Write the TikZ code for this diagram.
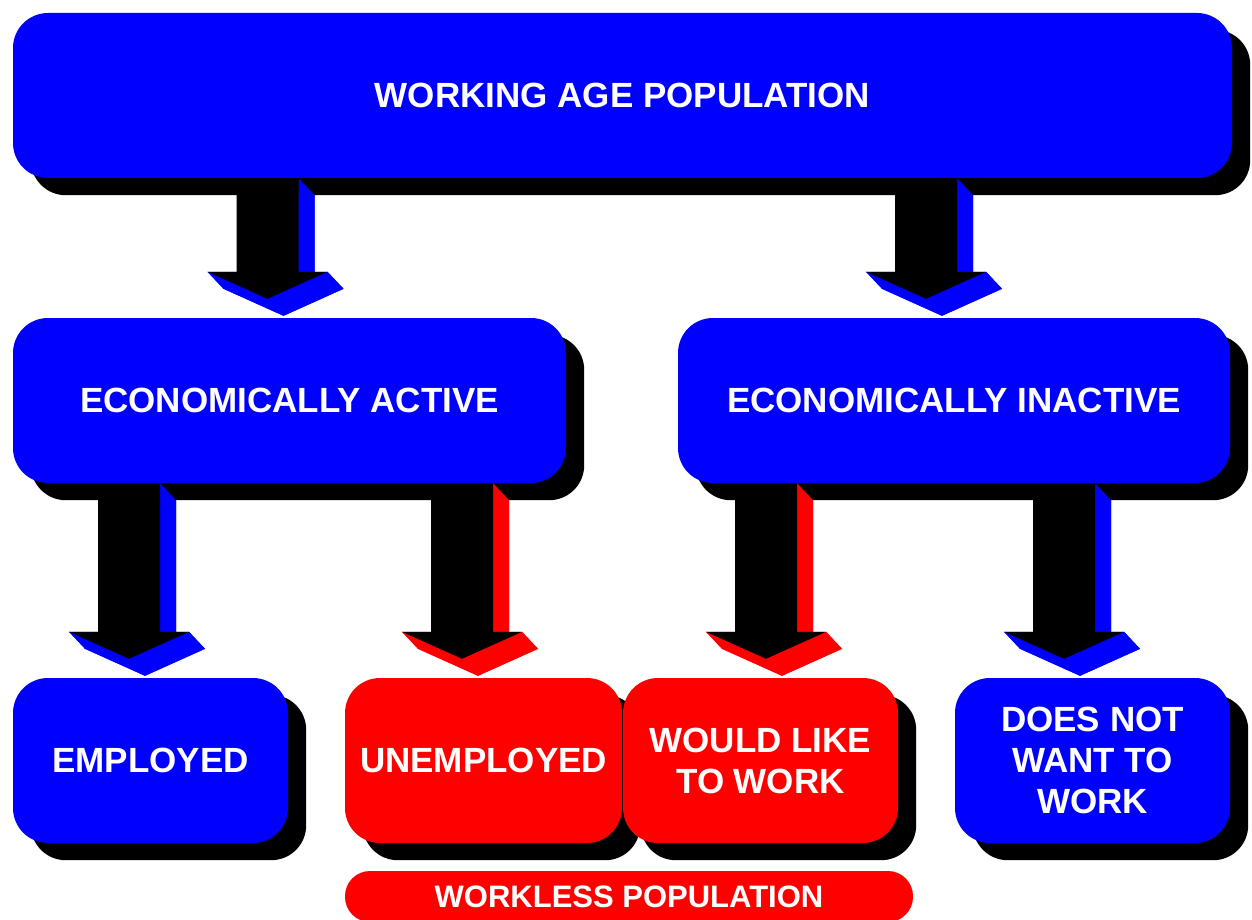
\documentclass[tikz,border=0pt]{standalone}
\usepackage{fontspec}
\setmainfont{Liberation Sans}
\usetikzlibrary{calc}

\definecolor{boxblue}{RGB}{0,0,255}
\definecolor{boxred}{RGB}{255,0,0}

\pgfdeclarelayer{shadowlayer}
\pgfdeclarelayer{arrowlayer}
\pgfsetlayers{shadowlayer,arrowlayer,main}

% one extruded side of a block arrow, from edge #1--#2
\newcommand{\sideface}[2]{%
  \fill (#1) -- (#2) -- ($(#2)+(16,17)$) -- ($(#1)+(16,17)$) -- cycle;}

% block arrow with a coloured 3D side: #1 source node, #2 target node,
% #3 coordinate giving the arrow axis, #4 side colour
\newcommand{\fatarrow}[4]{%
  \coordinate (fa-t) at (#3 |- #1.south);
  \coordinate (fa-b) at (#3 |- #2.north);
  \coordinate (fa-A) at ($(fa-t)+(-31,0)$);
  \coordinate (fa-B) at ($(fa-t)+(31,0)$);
  \coordinate (fa-C) at ($(fa-b)+(31,-46)$);
  \coordinate (fa-D) at ($(fa-b)+(60,-46)$);
  \coordinate (fa-E) at ($(fa-b)+(0,-19)$);
  \coordinate (fa-F) at ($(fa-b)+(-60,-46)$);
  \coordinate (fa-G) at ($(fa-b)+(-31,-46)$);
  \begin{scope}[fill=#4]
    \fill ($(fa-A)+(16,17)$) -- ($(fa-B)+(16,17)$) -- ($(fa-C)+(16,17)$)
      -- ($(fa-D)+(16,17)$) -- ($(fa-E)+(16,17)$) -- ($(fa-F)+(16,17)$)
      -- ($(fa-G)+(16,17)$) -- cycle;
    \sideface{fa-B}{fa-C}
    \sideface{fa-C}{fa-D}
    \sideface{fa-D}{fa-E}
    \sideface{fa-E}{fa-F}
    \sideface{fa-F}{fa-G}
  \end{scope}
  \fill[black] (fa-A) -- (fa-B) -- (fa-C) -- (fa-D) -- (fa-E) -- (fa-F)
    -- (fa-G) -- cycle;}

% black drop shadow behind a box
\newcommand{\boxshadow}[1]{%
  \fill[black, rounded corners=35pt] ($(#1.south west)+(18,17)$)
    rectangle ($(#1.north east)+(18,17)$);}

\begin{document}
\begin{tikzpicture}[x=1pt, y=-1pt,
  box/.style={rectangle, rounded corners=35pt, inner sep=0pt, text=white,
    align=center, minimum height=165pt,
    font=\fontsize{35}{41}\selectfont\bfseries},
  bluebox/.style={box, fill=boxblue},
  redbox/.style={box, fill=boxred}]

\useasboundingbox (0,0) rectangle (1252,920);
\clip (0,0) rectangle (1252,920);

% boxes
\node[bluebox, minimum width=1219pt] (wap) at (622.5,95.5) {WORKING AGE POPULATION};
\node[bluebox, minimum width=553pt] (act) at (289.5,400.5) {ECONOMICALLY ACTIVE};
\node[bluebox, minimum width=552pt] (inact) at (954,400.5) {ECONOMICALLY INACTIVE};
\node[bluebox, minimum width=275pt] (emp) at (150.5,760.5) {EMPLOYED};
\node[redbox, minimum width=277pt] (unemp) at (483.5,760.5) {UNEMPLOYED};
\node[redbox, minimum width=275pt] (would) at (760.5,760.5) {WOULD LIKE\\TO WORK};
\node[bluebox, minimum width=275pt] (nowant) at (1092.5,760.5) {DOES NOT\\WANT TO\\WORK};
\node[redbox, minimum width=568pt, minimum height=51pt, rounded corners=25pt,
  font=\fontsize{31}{36}\selectfont\bfseries] (workless) at (629,896.5) {WORKLESS POPULATION};

% shadows
\begin{pgfonlayer}{shadowlayer}
  \boxshadow{wap}
  \boxshadow{act}
  \boxshadow{inact}
  \boxshadow{emp}
  \boxshadow{unemp}
  \boxshadow{would}
  \boxshadow{nowant}
\end{pgfonlayer}

% arrow axes
\coordinate (ax1) at (267.5,0);
\coordinate (ax2) at (926,0);
\coordinate (ax3) at (129,0);
\coordinate (ax4) at (462,0);
\coordinate (ax5) at (766,0);
\coordinate (ax6) at (1064,0);

% block arrows
\begin{pgfonlayer}{arrowlayer}
  \fatarrow{wap}{act}{ax1}{boxblue}
  \fatarrow{wap}{inact}{ax2}{boxblue}
  \fatarrow{act}{emp}{ax3}{boxblue}
  \fatarrow{act}{unemp}{ax4}{boxred}
  \fatarrow{inact}{would}{ax5}{boxred}
  \fatarrow{inact}{nowant}{ax6}{boxblue}
\end{pgfonlayer}

\end{tikzpicture}
\end{document}
